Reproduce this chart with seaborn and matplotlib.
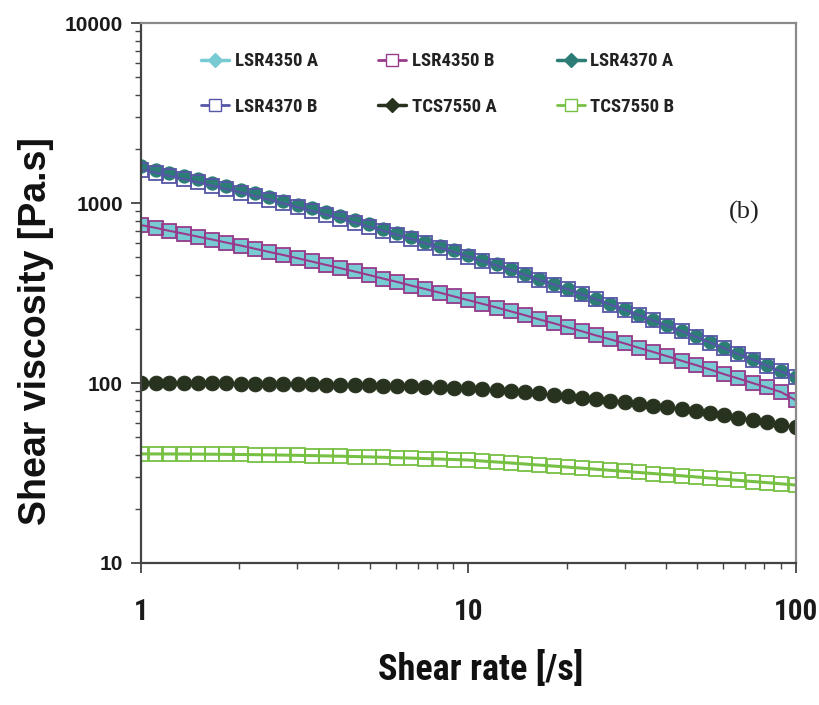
import matplotlib
matplotlib.use("Agg")
import matplotlib.pyplot as plt
import matplotlib.ticker as mticker
from matplotlib.lines import Line2D
import seaborn as sns

sns.set_style("ticks")
NARROW = ["Roboto Condensed", "PT Sans Narrow", "Liberation Sans Narrow", "DejaVu Sans"]
WIDE = ["Liberation Sans", "DejaVu Sans"]
plt.rcParams["font.family"] = NARROW
plt.rcParams["font.stretch"] = "condensed"

# shear rate [1/s]
shear_rate = [1.00, 1.11, 1.22, 1.35, 1.49, 1.65, 1.82, 2.02, 2.23, 2.46,
              2.72, 3.01, 3.32, 3.67, 4.06, 4.49, 4.96, 5.48, 6.05, 6.69,
              7.39, 8.17, 9.03, 9.98, 11.0, 12.2, 13.5, 14.9, 16.4, 18.2,
              20.1, 22.2, 24.5, 27.1, 30.0, 33.1, 36.6, 40.4, 44.7, 49.4,
              54.6, 60.3, 66.6, 73.7, 81.4, 90.0, 100.0]

lsr4350_a = [755, 729, 702, 677, 652, 628, 604, 581, 558, 536,
             515, 494, 474, 454, 435, 417, 399, 381, 365, 348,
             333, 318, 303, 289, 276, 263, 250, 238, 226, 215,
             204, 194, 184, 175, 166, 157, 149, 141, 133, 126,
             119, 112, 106, 100, 94.5, 89.1, 80.0]
lsr4350_b = [755, 729, 702, 677, 652, 628, 604, 581, 558, 536,
             515, 494, 474, 454, 435, 417, 399, 381, 365, 348,
             333, 318, 303, 289, 276, 263, 250, 238, 226, 215,
             204, 194, 184, 175, 166, 157, 149, 141, 133, 126,
             119, 112, 106, 100, 94.5, 89.1, 80.0]
lsr4370_a = [1600, 1537, 1474, 1414, 1355, 1297, 1241, 1186, 1133, 1081,
             1031, 982, 935, 889, 845, 802, 761, 722, 684, 647,
             612, 578, 546, 515, 486, 458, 431, 405, 380, 357,
             335, 314, 294, 275, 257, 240, 224, 209, 195, 182,
             169, 157, 146, 136, 126, 116, 108]
lsr4370_b = [1536, 1478, 1418, 1362, 1306, 1251, 1198, 1146, 1095, 1046,
             998, 951, 907, 863, 821, 780, 741, 704, 667, 632,
             598, 565, 535, 505, 477, 450, 424, 399, 375, 353,
             332, 311, 292, 273, 255, 239, 223, 208, 194, 181,
             168, 156, 145, 135, 125, 116, 108]
tcs7550_a = [100.0, 99.99, 99.95, 99.89, 99.80, 99.70, 99.56, 99.41, 99.22, 99.02,
             98.79, 98.54, 98.26, 97.96, 97.64, 97.30, 96.93, 96.54, 96.13, 95.70,
             95.24, 94.77, 94.27, 93.76, 92.6, 91.4, 90.2, 88.9, 87.5, 86.1,
             84.6, 83.1, 81.5, 79.9, 78.3, 76.6, 74.9, 73.2, 71.4, 69.7,
             67.9, 66.1, 64.3, 62.5, 60.6, 58.8, 57.0]
tcs7550_b = [40.36, 40.36, 40.34, 40.31, 40.27, 40.21, 40.15, 40.07, 39.98, 39.88,
             39.77, 39.64, 39.51, 39.36, 39.21, 39.04, 38.86, 38.67, 38.47, 38.26,
             38.04, 37.81, 37.57, 37.33, 36.86, 36.40, 35.93, 35.47, 35.01, 34.55,
             34.10, 33.64, 33.19, 32.73, 32.29, 31.84, 31.40, 30.95, 30.52, 30.08,
             29.65, 29.22, 28.79, 28.36, 27.95, 27.53, 27.10]

labels = ["LSR4350 A", "LSR4350 B", "LSR4370 A", "LSR4370 B", "TCS7550 A", "TCS7550 B"]

C_CYAN = "#79cbd3"
C_PURPLE = "#983b8c"
C_TEAL = "#2b7d76"
C_BLUE = "#5656a6"
C_DARK = "#27321f"
C_GREEN = "#76c043"

fig, ax = plt.subplots(figsize=(8.19, 7.05), dpi=100)
fig.subplots_adjust(left=0.172, right=0.972, top=0.967, bottom=0.2015)

# draw order: filled series first, open markers on top
sns.lineplot(x=shear_rate, y=tcs7550_b, ax=ax, color=C_GREEN, linewidth=2.2,
             marker="s", markersize=9.5, markerfacecolor="none",
             markeredgecolor=C_GREEN, markeredgewidth=1.3, legend=False)
sns.lineplot(x=shear_rate, y=tcs7550_a, ax=ax, color=C_DARK, linewidth=1.5,
             marker="o", markersize=10.5, markerfacecolor=C_DARK,
             markeredgecolor=C_DARK, legend=False)
sns.lineplot(x=shear_rate, y=lsr4350_a, ax=ax, color=C_CYAN, linewidth=1.5,
             marker="s", markersize=10.5, markerfacecolor=C_CYAN,
             markeredgecolor=C_CYAN, legend=False)
sns.lineplot(x=shear_rate, y=lsr4350_b, ax=ax, color=C_PURPLE, linewidth=1.5,
             marker="s", markersize=10.5, markerfacecolor="none",
             markeredgecolor=C_PURPLE, markeredgewidth=1.3, legend=False)
sns.lineplot(x=shear_rate, y=lsr4370_a, ax=ax, color=C_TEAL, linewidth=1.5,
             marker="o", markersize=9.5, markerfacecolor=C_TEAL,
             markeredgecolor=C_TEAL, legend=False)
sns.lineplot(x=shear_rate, y=lsr4370_b, ax=ax, color=C_BLUE, linewidth=1.5,
             marker="s", markersize=9.5, markerfacecolor="none",
             markeredgecolor=C_BLUE, markeredgewidth=1.3, legend=False)

ax.set_xscale("log")
ax.set_yscale("log")
ax.set_xlim(1, 100)
ax.set_ylim(10, 10000)

fmt = mticker.FuncFormatter(lambda v, p: f"{v:g}")
ax.xaxis.set_major_formatter(fmt)
ax.yaxis.set_major_formatter(fmt)
ax.xaxis.set_minor_formatter(mticker.NullFormatter())
ax.yaxis.set_minor_formatter(mticker.NullFormatter())
ax.yaxis.set_major_locator(mticker.FixedLocator([10, 100, 1000, 10000]))
ax.yaxis.set_minor_locator(mticker.LogLocator(base=10, subs=range(2, 10)))
ax.xaxis.set_minor_locator(mticker.LogLocator(base=10, subs=range(2, 10)))

ax.tick_params(axis="both", which="major", direction="out", length=7, width=1.3, color="#444444")
ax.tick_params(axis="both", which="minor", direction="out", length=4, width=1.0, color="#444444")
ax.tick_params(axis="y", which="major", pad=6)
ax.tick_params(axis="x", which="major", pad=18)
for lab in ax.get_yticklabels():
    lab.set_family(WIDE)
    lab.set_fontstretch("normal")
    lab.set_fontweight("bold")
    lab.set_fontsize(15)
    lab.set_color("#1a1a1a")
for lab in ax.get_xticklabels():
    lab.set_fontweight("bold")
    lab.set_fontsize(21)
    lab.set_color("#1a1a1a")

for side in ["left", "bottom"]:
    ax.spines[side].set_color("#444444")
    ax.spines[side].set_linewidth(1.6)
for side in ["top", "right"]:
    ax.spines[side].set_color("#8a8a8a")
    ax.spines[side].set_linewidth(1.6)

ax.set_xlabel("Shear rate [/s]", fontsize=26, fontweight="bold", color="#111111")
ax.xaxis.set_label_coords(0.518, -0.163)
ax.set_ylabel("Shear viscosity [Pa.s]", fontsize=27, fontweight="bold", color="#111111",
              family=WIDE, fontstretch="normal")
ax.yaxis.set_label_coords(-0.132, 0.43)

ax.text(0.921, 0.65, "(b)", transform=ax.transAxes, fontsize=19, fontstretch="normal",
        family=["Liberation Serif", "DejaVu Serif"], ha="center", va="center", color="#222222")

handles = {
    "LSR4350 A": Line2D([], [], color=C_CYAN, lw=2.5, marker="D", ms=7, mfc=C_CYAN, mec=C_CYAN),
    "LSR4350 B": Line2D([], [], color=C_PURPLE, lw=2, marker="s", ms=8, mfc="white", mec=C_PURPLE),
    "LSR4370 A": Line2D([], [], color=C_TEAL, lw=2.5, marker="D", ms=7, mfc=C_TEAL, mec=C_TEAL),
    "LSR4370 B": Line2D([], [], color=C_BLUE, lw=2, marker="s", ms=8, mfc="white", mec=C_BLUE),
    "TCS7550 A": Line2D([], [], color=C_DARK, lw=2.5, marker="D", ms=7, mfc=C_DARK, mec=C_DARK),
    "TCS7550 B": Line2D([], [], color=C_GREEN, lw=2, marker="s", ms=8, mfc="white", mec=C_GREEN),
}
# ncol fills by column, so interleave the two rows
order = [labels[0], labels[3], labels[1], labels[4], labels[2], labels[5]]
leg = ax.legend([handles[k] for k in order], order, ncol=3, loc="upper left",
                bbox_to_anchor=(0.092, 0.946), frameon=False, borderpad=0, borderaxespad=0,
                handlelength=1.5, handletextpad=0.3, columnspacing=3.2, labelspacing=1.45,
                prop={"weight": "bold", "size": 13.5, "stretch": "condensed"})
for t in leg.get_texts():
    t.set_color("#222222")

fig.savefig("out.png", dpi=100, facecolor="white")
